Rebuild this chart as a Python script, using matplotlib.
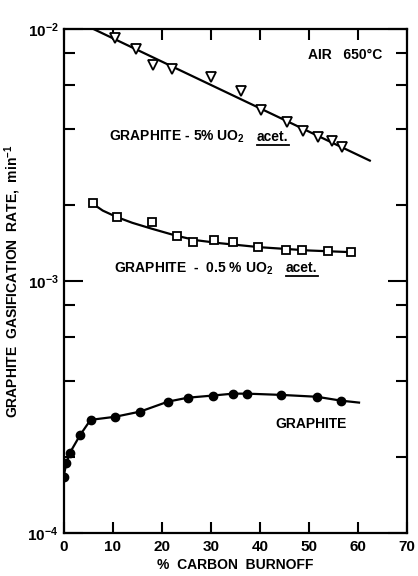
import numpy as np
import matplotlib
matplotlib.use("Agg")
import matplotlib.pyplot as plt
from matplotlib.ticker import LogLocator, NullFormatter
from matplotlib.lines import Line2D

plt.rcParams['font.family'] = ['Liberation Sans', 'DejaVu Sans']
plt.rcParams['font.weight'] = 'bold'
plt.rcParams['axes.labelweight'] = 'bold'
plt.rcParams['mathtext.fontset'] = 'custom'
plt.rcParams['mathtext.rm'] = 'Liberation Sans:bold'
plt.rcParams['mathtext.it'] = 'Liberation Sans:bold'
plt.rcParams['mathtext.bf'] = 'Liberation Sans:bold'
plt.rcParams['mathtext.default'] = 'regular'

# graphite - 5% UO2 (acet.)
burnoff_5 = [10.5, 14.8, 18.2, 22.1, 30.0, 36.2, 40.2, 45.5, 48.8, 51.8, 54.7, 56.7]
rate_5 = [9.2e-3, 8.3e-3, 7.2e-3, 6.9e-3, 6.44e-3, 5.67e-3, 4.76e-3, 4.27e-3,
          3.93e-3, 3.72e-3, 3.59e-3, 3.40e-3]
fit_x_5 = [6.0, 62.4]
fit_y_5 = [1.0e-2, 3.0e-3]

# graphite - 0.5% UO2 (acet.)
burnoff_05 = [6.0, 10.9, 18.0, 23.1, 26.4, 30.7, 34.5, 39.6, 45.3, 48.6, 53.9, 58.6]
rate_05 = [2.03e-3, 1.79e-3, 1.72e-3, 1.50e-3, 1.42e-3, 1.45e-3, 1.42e-3, 1.36e-3,
           1.32e-3, 1.32e-3, 1.31e-3, 1.30e-3]
fit_x_05 = [6.0, 8.0, 10.9, 14.0, 18.0, 23.0, 27.0, 32.0, 40.0, 50.0, 58.6]
fit_y_05 = [2.02e-3, 1.90e-3, 1.79e-3, 1.70e-3, 1.61e-3, 1.51e-3, 1.45e-3,
            1.41e-3, 1.36e-3, 1.32e-3, 1.30e-3]

# plain graphite
burnoff_g = [0.0, 0.6, 1.3, 3.4, 5.5, 10.5, 15.6, 21.3, 25.3, 30.5, 34.5, 37.4, 44.3, 51.6, 56.5]
rate_g = [1.67e-4, 1.90e-4, 2.08e-4, 2.45e-4, 2.81e-4, 2.89e-4, 3.03e-4, 3.32e-4,
          3.44e-4, 3.51e-4, 3.57e-4, 3.57e-4, 3.53e-4, 3.47e-4, 3.35e-4]
tail_x_g = [56.5, 60.2]
tail_y_g = [3.35e-4, 3.29e-4]

fig = plt.figure(figsize=(4.18, 5.76), dpi=100)
ax = fig.add_axes([0.152, 0.0747, 0.822, 0.8753])

ax.plot(fit_x_5, fit_y_5, color='black', lw=1.6)
ax.plot(burnoff_5, rate_5, 'v', ms=6.5, mfc='white', mec='black', mew=1.3)

ax.plot(fit_x_05, fit_y_05, color='black', lw=1.6)
ax.plot(burnoff_05, rate_05, 's', ms=5.5, mfc='white', mec='black', mew=1.3)

ax.plot(burnoff_g, rate_g, '-o', color='black', lw=1.6, ms=6)
ax.plot(tail_x_g, tail_y_g, color='black', lw=1.6)

ax.set_yscale('log')
ax.set_xlim(0, 70)
ax.set_ylim(1e-4, 1e-2)

ax.set_xticks(range(0, 80, 10))
ax.yaxis.set_major_locator(LogLocator(base=10, numticks=5))
ax.yaxis.set_minor_locator(LogLocator(base=10, subs=[2, 4, 6, 8], numticks=10))
ax.yaxis.set_minor_formatter(NullFormatter())

ax.tick_params(axis='x', which='both', direction='in', length=8, width=1.5,
               top=True, labelsize=11, pad=5)
ax.tick_params(axis='y', which='major', direction='in', length=14, width=1.5,
               right=True, labelsize=11)
ax.tick_params(axis='y', which='minor', direction='in', length=8, width=1.5, right=True)
for s in ax.spines.values():
    s.set_linewidth(1.6)

ax.set_xlabel('%  CARBON  BURNOFF', fontsize=10, labelpad=3)
ax.set_ylabel('GRAPHITE  GASIFICATION  RATE,  min$^{-1}$', fontsize=10)
ax.yaxis.set_label_coords(-0.118, 0.5)

fs = 10
ax.text(49.8, 7.88e-3, 'AIR   650°C', fontsize=fs, va='center')
ax.text(9.3, 3.72e-3, 'GRAPHITE - 5% UO$_2$', fontsize=fs, va='center')
t1 = ax.text(39.4, 3.72e-3, 'acet.', fontsize=fs, va='center')
ax.text(10.3, 1.12e-3, 'GRAPHITE  -  0.5 % UO$_2$', fontsize=fs, va='center')
t2 = ax.text(45.3, 1.12e-3, 'acet.', fontsize=fs, va='center')
ax.text(43.1, 2.71e-4, 'GRAPHITE', fontsize=fs, va='center')

# underline the "acet." tags
fig.canvas.draw()
for t in (t1, t2):
    bb = t.get_window_extent()
    fig.add_artist(Line2D([bb.x0, bb.x1], [bb.y0 - 1, bb.y0 - 1], transform=None,
                          color='black', lw=1.3))

fig.savefig('out.png', dpi=100)
